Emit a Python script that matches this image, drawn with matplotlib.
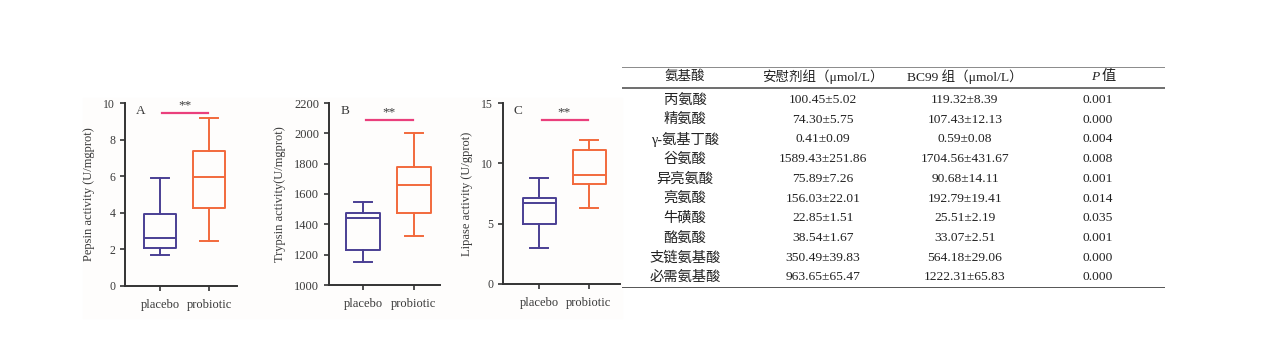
"""
Figura combinada: atividade enzimática (boxplots A-C) + tabela de aminoácidos.
Saída: out.png (1266x352)
"""
import matplotlib
matplotlib.use("Agg")
import matplotlib.pyplot as plt
from matplotlib.patches import Rectangle

plt.rcParams["font.family"] = ["Liberation Serif", "Noto Sans CJK SC"]

# ── dados dos boxplots: (whislo, q1, med, q3, whishi) ──
groups = ["placebo", "probiotic"]
pepsin_placebo = [1.7, 2.05, 2.6, 3.95, 5.9]
pepsin_probiotic = [2.45, 4.25, 5.95, 7.35, 9.2]
trypsin_placebo = [1150, 1230, 1445, 1475, 1550]
trypsin_probiotic = [1320, 1475, 1660, 1775, 2000]
lipase_placebo = [2.95, 5.0, 6.7, 7.15, 8.8]
lipase_probiotic = [6.3, 8.3, 9.0, 11.1, 11.9]
sig_levels = [9.45, 2085, 13.6]

# ── dados da tabela ──
header = ["氨基酸", "安慰剂组（μmol/L）", "BC99 组（μmol/L）"]
amino = ["丙氨酸", "精氨酸", "γ-氨基丁酸", "谷氨酸", "异亮氨酸",
         "亮氨酸", "牛磺酸", "酪氨酸", "支链氨基酸", "必需氨基酸"]
placebo_vals = ["100.45±5.02", "74.30±5.75", "0.41±0.09", "1589.43±251.86",
                "75.89±7.26", "156.03±22.01", "22.85±1.51", "38.54±1.67",
                "350.49±39.83", "963.65±65.47"]
bc99_vals = ["119.32±8.39", "107.43±12.13", "0.59±0.08", "1704.56±431.67",
             "90.68±14.11", "192.79±19.41", "25.51±2.19", "33.07±2.51",
             "564.18±29.06", "1222.31±65.83"]
p_vals = ["0.001", "0.000", "0.004", "0.008", "0.001",
          "0.014", "0.035", "0.001", "0.000", "0.000"]

C_PLA = "#4a3f94"
C_PRO = "#f2693c"
C_SIG = "#ea3f7c"
C_AX = "#333333"
C_TXT = "#3a3a3a"

W, H = 1266, 352
fig = plt.figure(figsize=(W / 100, H / 100), dpi=100)


def px_axes(l, t, r, b):
    return fig.add_axes([l / W, 1 - b / H, (r - l) / W, (b - t) / H])


# fundo levemente acinzentado da área dos gráficos
fig.patches.append(Rectangle((83 / W, 1 - 318 / H), (622 - 83) / W, (318 - 98) / H,
                             transform=fig.transFigure, color="#fefdfc", zorder=-5))

paineis = [
    # (l, t, r, b), xlim, ylim, yticks, ylabel, letra, dados, fonte ticks
    ((125, 103, 237, 286), (0.286, 2.57), (0, 10), range(0, 11, 2),
     "Pepsin activity (U/mgprot)", "A", (pepsin_placebo, pepsin_probiotic), 8.5),
    ((329, 103, 440, 285), (0.333, 2.51), (1000, 2200), range(1000, 2201, 200),
     "Trypsin activity(U/mgprot)", "B", (trypsin_placebo, trypsin_probiotic), 9),
    ((503, 103, 620, 284), (0.28, 2.62), (0, 15), range(0, 16, 5),
     "Lipase activity (U/gprot)", "C", (lipase_placebo, lipase_probiotic), 8.5),
]

for (box, xlim, ylim, yticks, ylabel, letra, dados, fs), sig in zip(paineis, sig_levels):
    ax = px_axes(*box)
    ax.patch.set_alpha(0)
    stats = [dict(whislo=d[0], q1=d[1], med=d[2], q3=d[3], whishi=d[4], label=g)
             for d, g in zip(dados, groups)]
    arts = ax.bxp(stats, positions=[1, 2], widths=0.66, capwidths=0.37,
                  showfliers=False, patch_artist=False)
    for i, cor in enumerate([C_PLA, C_PRO]):
        arts["boxes"][i].set(color=cor, lw=1.4)
        arts["medians"][i].set(color=cor, lw=1.4)
        for j in (2 * i, 2 * i + 1):
            arts["whiskers"][j].set(color=cor, lw=1.4)
            arts["caps"][j].set(color=cor, lw=1.4)

    ax.set_xlim(*xlim)
    ax.set_ylim(*ylim)
    ax.set_yticks(list(yticks))
    ax.set_xticks([1, 2])
    ax.set_xticklabels(groups)
    ax.spines[["top", "right"]].set_visible(False)
    for s in ("left", "bottom"):
        ax.spines[s].set_color(C_AX)
        ax.spines[s].set_linewidth(1.4)
    ax.tick_params(axis="both", colors=C_AX, width=1.2, length=3.5,
                   labelsize=fs, labelcolor=C_TXT)
    ax.tick_params(axis="x", labelsize=9, pad=6)
    ax.set_ylabel(ylabel, fontsize=9, color=C_TXT, labelpad=6)

    # linha de significância
    ax.plot([1.05, 1.98], [sig, sig], color=C_SIG, lw=1.6, clip_on=False)
    ax.text(1.5, sig + (ylim[1] - ylim[0]) * 0.01, "**", ha="center", va="bottom",
            fontsize=9.5, color=C_TXT)
    ax.text(xlim[0] + 0.22, ylim[1] - (ylim[1] - ylim[0]) * 0.01, letra,
            ha="left", va="top", fontsize=9.5, color=C_TXT)

# ── tabela ──
tx = px_axes(622, 67, 1165, 288)
tx.set_xlim(0, 543)
tx.set_ylim(221, 0)
tx.axis("off")
col_x = [63, 201, 343, 476]
tx.axhline(0, color="#8a8a8a", lw=1.4)
tx.axhline(21, color="#555555", lw=1.2)
tx.axhline(221, color="#555555", lw=1.4)
fs_num = 9.7
fs_cjk = 10.3
for x, txt in zip(col_x, header):
    tx.text(x, 9.5, txt, ha="center", va="center", fontsize=fs_num, color="#222222")
# cabeçalho "P 值" com P em itálico
tx.text(col_x[3] + 1, 9.5, "P", ha="right", va="center", fontsize=fs_num,
        style="italic", color="#222222")
tx.text(col_x[3] + 4, 9.5, "值", ha="left", va="center", fontsize=fs_cjk,
        color="#222222")
for i, linha in enumerate(zip(amino, placebo_vals, bc99_vals, p_vals)):
    y = 33 + 19.7 * i
    for k, (x, txt) in enumerate(zip(col_x, linha)):
        tx.text(x, y, txt, ha="center", va="center",
                fontsize=fs_cjk if k == 0 else fs_num, color="#222222")

fig.savefig("out.png", dpi=100)
plt.close(fig)
